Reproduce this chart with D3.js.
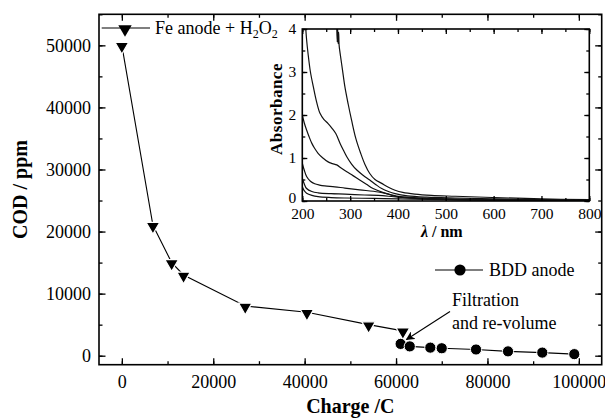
<!DOCTYPE html>
<html lang="en">
<head>
<meta charset="utf-8">
<title>COD vs charge</title>
<script src="https://d3js.org/d3.v7.min.js"></script>
<style type="text/css">
    body { margin: 0; background: #fff; }
    svg text { font-family: "Liberation Serif", "Times New Roman", serif; fill: #000; }
</style>
</head>
<body>
<script type="text/javascript">

// main series: charge (C) vs COD (ppm)
var feCharge = [0, 6800, 10900, 13500, 27000, 40500, 54000, 61500];
var feCOD    = [50000, 21000, 15000, 13000, 8000, 7000, 5000, 4000];

var bddCharge = [61000, 63000, 67500, 70000, 77500, 84500, 92000, 99000];
var bddCOD    = [1900, 1500, 1300, 1200, 1000, 700, 500, 250];

var xTicks = [0, 20000, 40000, 60000, 80000, 100000];
var yTicks = [0, 10000, 20000, 30000, 40000, 50000];

// inset spectra: [wavelength nm, absorbance]
var specA = [[272,4.05],[273,3.7],[274,4.0],[275,3.66],[276,3.92],[277,3.62],[279,3.44],[284,3.05],[289,2.66],[296,2.25],[303,1.88],[312,1.45],[322,1.11],[331,0.85],[341,0.64],[352,0.5],[366,0.41],[380,0.32],[394,0.25],[410,0.2],[435,0.16],[470,0.13],[520,0.11],[600,0.08],[700,0.05],[800,0.03]];
var specB = [[207,4.05],[209,3.75],[212,3.43],[217,3.0],[223,2.66],[230,2.3],[237,2.04],[245,1.9],[254,1.8],[263,1.68],[270,1.57],[279,1.34],[286,1.18],[293,1.03],[303,0.86],[314,0.72],[327,0.6],[341,0.49],[354,0.38],[366,0.29],[380,0.22],[394,0.17],[420,0.12],[460,0.09],[520,0.07],[600,0.05],[700,0.03],[800,0.02]];
var specC = [[200,2.0],[204,1.82],[209,1.65],[214,1.5],[220,1.34],[226,1.22],[233,1.11],[243,1.0],[254,0.91],[263,0.87],[272,0.84],[282,0.76],[293,0.68],[306,0.59],[320,0.49],[334,0.39],[348,0.29],[368,0.2],[387,0.14],[405,0.1],[450,0.07],[500,0.05],[600,0.03],[700,0.02],[800,0.01]];
var specD = [[200,0.88],[204,0.72],[209,0.57],[217,0.46],[226,0.4],[236,0.37],[247,0.35],[268,0.33],[289,0.3],[320,0.26],[359,0.21],[380,0.16],[394,0.11],[420,0.07],[500,0.04],[600,0.03],[800,0.01]];
var specE = [[200,0.53],[204,0.4],[209,0.29],[220,0.22],[233,0.19],[260,0.17],[289,0.16],[330,0.14],[359,0.13],[400,0.09],[450,0.06],[500,0.04],[600,0.02],[800,0.01]];
var specF = [[200,0.33],[204,0.24],[209,0.18],[220,0.13],[233,0.1],[260,0.08],[289,0.07],[350,0.06],[400,0.05],[500,0.03],[600,0.02],[800,0.01]];
var spectra = [specA, specB, specC, specD, specE, specF];

var inXTicks = [200, 300, 400, 500, 600, 700, 800];
var inYTicks = [0, 1, 2, 3, 4];

var SERIF = '"Liberation Serif", "Times New Roman", serif';

// layout
var margin = {top: 14.3, right: 3.3, bottom: 54.3, left: 99},
    W = 605, H = 419,
    width = W - margin.left - margin.right,
    height = H - margin.top - margin.bottom;

var svg = d3.select("body").append("svg")
    .attr("width", W)
    .attr("height", H)
    .style("font-family", SERIF);

var g = svg.append("g")
    .attr("transform", "translate(" + margin.left + "," + margin.top + ")");

var x = d3.scaleLinear().domain([-5000, 105000]).range([0, width]);
var y = d3.scaleLinear().domain([-1450, 55000]).range([height, 0]);

// arrow head for the annotation
svg.append("defs").append("marker")
    .attr("id", "arrow")
    .attr("viewBox", "0 0 10 10")
    .attr("refX", 9).attr("refY", 5)
    .attr("markerWidth", 9).attr("markerHeight", 9)
    .attr("markerUnits", "userSpaceOnUse")
    .attr("orient", "auto")
    .append("path")
    .attr("d", "M0,0 L10,5 L0,10 L3,5 Z")
    .attr("fill", "#000");

// helper to draw an inward-tick axis
function drawAxis(parent, axis, tf, showLabels, fontSize) {
    var a = parent.append("g").attr("transform", tf).call(axis);
    a.attr("font-family", SERIF);
    a.select(".domain").remove();
    a.selectAll("line").attr("stroke", "#000").attr("stroke-width", 1.3);
    if (!showLabels) a.selectAll("text").remove();
    else a.selectAll("text").style("font-size", fontSize + "px").style("font-family", SERIF);
    return a;
}

var minorX = d3.range(0, 105000, 10000);
var minorY = d3.range(0, 55001, 5000);

// main axes: bottom/left labelled, top/right ticks only
drawAxis(g, d3.axisBottom(x).tickValues(minorX).tickSize(-3.5).tickFormat(""), "translate(0," + height + ")", false);
drawAxis(g, d3.axisBottom(x).tickValues(xTicks).tickSize(-6.5).tickPadding(10.5).tickFormat(d3.format("d")), "translate(0," + height + ")", true, 18);
drawAxis(g, d3.axisTop(x).tickValues(minorX).tickSize(-3.5).tickFormat(""), "translate(0,0)", false);
drawAxis(g, d3.axisTop(x).tickValues(xTicks).tickSize(-6.5).tickFormat(""), "translate(0,0)", false);
drawAxis(g, d3.axisLeft(y).tickValues(minorY).tickSize(-3.5).tickFormat(""), "translate(0,0)", false);
drawAxis(g, d3.axisLeft(y).tickValues(yTicks).tickSize(-6.5).tickPadding(8).tickFormat(d3.format("d")), "translate(0,0)", true, 18);
drawAxis(g, d3.axisRight(y).tickValues(minorY).tickSize(-3.5).tickFormat(""), "translate(" + width + ",0)", false);
drawAxis(g, d3.axisRight(y).tickValues(yTicks).tickSize(-6.5).tickFormat(""), "translate(" + width + ",0)", false);

// frame
g.append("rect")
    .attr("width", width).attr("height", height)
    .attr("fill", "none").attr("stroke", "#000").attr("stroke-width", 1.6);

// axis titles
svg.append("text")
    .attr("x", margin.left + width / 2).attr("y", 413)
    .attr("text-anchor", "middle")
    .style("font-size", "20px").style("font-weight", "bold")
    .text("Charge /C");

svg.append("text")
    .attr("transform", "translate(27," + (margin.top + height / 2) + ") rotate(-90)")
    .attr("text-anchor", "middle")
    .style("font-size", "20px").style("font-weight", "bold")
    .text("COD / ppm");

// series lines
var feData = feCharge.map(function(c, i) { return [c, feCOD[i]]; });
var bddData = bddCharge.map(function(c, i) { return [c, bddCOD[i]]; });

var line = d3.line()
    .x(function(d) { return x(d[0]); })
    .y(function(d) { return y(d[1]); });

g.append("path").datum(feData).attr("d", line)
    .attr("fill", "none").attr("stroke", "#000").attr("stroke-width", 1.1);
g.append("path").datum(bddData).attr("d", line)
    .attr("fill", "none").attr("stroke", "#000").attr("stroke-width", 1.1);

var tri = d3.symbol().type(d3.symbolTriangle).size(78);

g.selectAll(".tri")
    .data(feData)
    .enter().append("path")
    .attr("class", "tri")
    .attr("d", tri)
    .attr("transform", function(d) { return "translate(" + x(d[0]) + "," + (y(d[1]) + 1) + ") rotate(180)"; })
    .attr("fill", "#000").attr("stroke", "#fff").attr("stroke-width", 1.2);

g.selectAll(".dot")
    .data(bddData)
    .enter().append("circle")
    .attr("class", "dot")
    .attr("r", 5.6)
    .attr("cx", function(d) { return x(d[0]); })
    .attr("cy", function(d) { return y(d[1]); })
    .attr("fill", "#000").attr("stroke", "#fff").attr("stroke-width", 1);

// legend entries
svg.append("line").attr("x1", 101.7).attr("x2", 150).attr("y1", 28).attr("y2", 28)
    .attr("stroke", "#000").attr("stroke-width", 1.1);
svg.append("path").attr("d", tri)
    .attr("transform", "translate(125,29) rotate(180)").attr("fill", "#000");
var feLabel = svg.append("text").attr("x", 155).attr("y", 34).style("font-size", "18px");
feLabel.append("tspan").text("Fe anode + H");
feLabel.append("tspan").attr("dy", 4).style("font-size", "12px").text("2");
feLabel.append("tspan").attr("dy", -4).text("O");
feLabel.append("tspan").attr("dy", 4).style("font-size", "12px").text("2");

svg.append("line").attr("x1", 435).attr("x2", 483).attr("y1", 270).attr("y2", 270)
    .attr("stroke", "#000").attr("stroke-width", 1.1);
svg.append("circle").attr("cx", 460).attr("cy", 270).attr("r", 5.6).attr("fill", "#000");
svg.append("text").attr("x", 489).attr("y", 276).style("font-size", "18px").text("BDD anode");

// annotation
svg.append("text").attr("x", 452).attr("y", 306).style("font-size", "18px").text("Filtration");
svg.append("text").attr("x", 452).attr("y", 328.5).style("font-size", "18px").text("and re-volume");
svg.append("line")
    .attr("x1", 450).attr("y1", 311.5).attr("x2", 406.5).attr("y2", 339.5)
    .attr("stroke", "#000").attr("stroke-width", 1.1)
    .attr("marker-end", "url(#arrow)");

// ---------- inset ----------
var inset = {left: 302.3, top: 29, right: 589.3, bottom: 201};
var iw = inset.right - inset.left, ih = inset.bottom - inset.top;

var ig = svg.append("g").attr("transform", "translate(" + inset.left + "," + inset.top + ")");

ig.append("rect").attr("x", -2).attr("y", -2).attr("width", iw + 4).attr("height", ih + 4).attr("fill", "#fff");

var ix = d3.scaleLinear().domain([200, 800]).range([0, iw]);
var iy = d3.scaleLinear().domain([0, 4]).range([ih, 0]);

ig.append("clipPath").attr("id", "inclip")
    .append("rect").attr("width", iw).attr("height", ih);

var sline = d3.line()
    .curve(d3.curveCatmullRom)
    .x(function(d) { return ix(d[0]); })
    .y(function(d) { return iy(d[1]); });

ig.append("g").attr("clip-path", "url(#inclip)")
    .selectAll(".spec")
    .data(spectra)
    .enter().append("path")
    .attr("class", "spec")
    .attr("d", sline)
    .attr("fill", "none").attr("stroke", "#111").attr("stroke-width", 1.2);

var inMinorX = d3.range(200, 801, 50);
var inMinorY = d3.range(0, 4.01, 0.5);

drawAxis(ig, d3.axisBottom(ix).tickValues(inMinorX).tickSize(-3).tickFormat(""), "translate(0," + ih + ")", false);
drawAxis(ig, d3.axisBottom(ix).tickValues(inXTicks).tickSize(-5).tickPadding(6.5).tickFormat(d3.format("d")), "translate(0," + ih + ")", true, 15.5);
drawAxis(ig, d3.axisTop(ix).tickValues(inMinorX).tickSize(-3).tickFormat(""), "translate(0,0)", false);
drawAxis(ig, d3.axisTop(ix).tickValues(inXTicks).tickSize(-5).tickFormat(""), "translate(0,0)", false);
drawAxis(ig, d3.axisLeft(iy).tickValues(inMinorY).tickSize(-3).tickFormat(""), "translate(0,0)", false);
drawAxis(ig, d3.axisLeft(iy).tickValues(inYTicks).tickSize(-5).tickPadding(6).tickFormat(d3.format("d")), "translate(0,0)", true, 15.5);
drawAxis(ig, d3.axisRight(iy).tickValues(inMinorY).tickSize(-3).tickFormat(""), "translate(" + iw + ",0)", false);
drawAxis(ig, d3.axisRight(iy).tickValues(inYTicks).tickSize(-5).tickFormat(""), "translate(" + iw + ",0)", false);

// nudge the inset "0" up a touch so it clears the "200" below it
ig.selectAll("text").filter(function(d) { return d === 0; }).attr("dy", "0.1em");

ig.append("rect")
    .attr("width", iw).attr("height", ih)
    .attr("fill", "none").attr("stroke", "#000").attr("stroke-width", 1.6);

// inset titles
var lam = svg.append("text")
    .attr("x", inset.left + iw / 2 - 4).attr("y", 237)
    .attr("text-anchor", "middle")
    .style("font-size", "16px").style("font-weight", "bold");
lam.append("tspan").style("font-style", "italic").text("\u03bb");
lam.append("tspan").text(" / nm");

svg.append("text")
    .attr("transform", "translate(282," + (inset.top + ih / 2 - 6) + ") rotate(-90)")
    .attr("text-anchor", "middle")
    .style("font-size", "17px").style("font-weight", "bold")
    .style("letter-spacing", "0.5px")
    .text("Absorbance");

</script>
</body>
</html>
